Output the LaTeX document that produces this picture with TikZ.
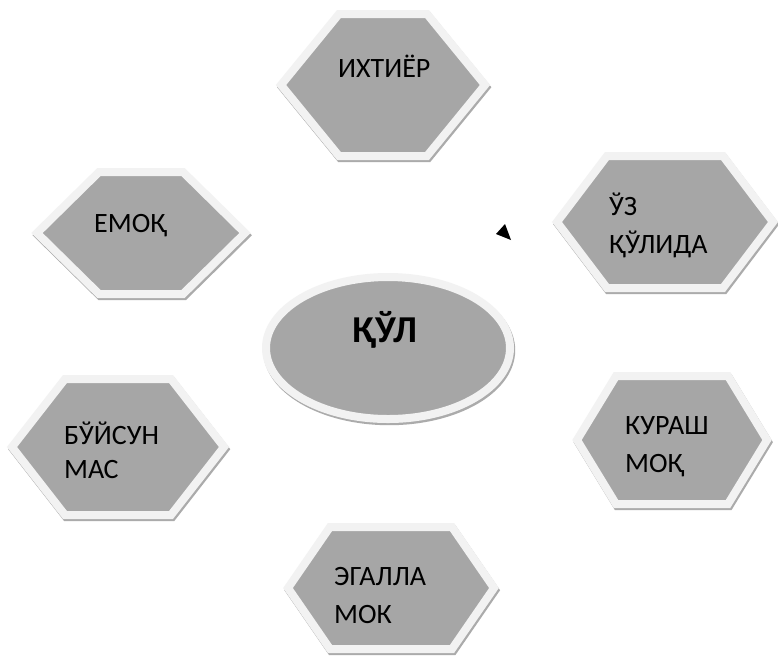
\documentclass[tikz,border=0pt]{standalone}
\usepackage{fontspec}
\setmainfont{Carlito}
\usetikzlibrary{calc}
\definecolor{hexfill}{HTML}{A6A6A6}
\definecolor{hexborder}{HTML}{F2F2F2}
\definecolor{hexshadow}{HTML}{ABABAB}
\tikzset{
  hexmain/.style={fill=hexfill, draw=hexborder, line width=8pt, line join=miter},
  hexshade/.style={fill=hexshadow, draw=hexshadow, line width=8pt, line join=miter},
  hextext/.style={anchor=base west, align=left, inner sep=0pt, font=\fontsize{28}{38}\selectfont},
}
% cx cy hw hh th (outer sizes)
\newcommand\myhexagon[5]{%
  \pgfmathsetmacro\hw{#3-5}\pgfmathsetmacro\hh{#4-4}\pgfmathsetmacro\th{#5-2}%
  \begin{scope}[shift={(#1+1.2,#2+2.2)}]
    \draw[hexshade] (-\hw,0) -- (-\th,-\hh) -- (\th,-\hh) -- (\hw,0) -- (\th,\hh) -- (-\th,\hh) -- cycle;
  \end{scope}
  \begin{scope}[shift={(#1,#2)}]
    \draw[hexmain] (-\hw,0) -- (-\th,-\hh) -- (\th,-\hh) -- (\hw,0) -- (\th,\hh) -- (-\th,\hh) -- cycle;
  \end{scope}}
\begin{document}
\begin{tikzpicture}[x=1pt,y=-1pt]
\useasboundingbox (0,0) rectangle (778,665);
\fill[white] (0,0) rectangle (778,665);
% hexagons
\myhexagon{383}{85}{107}{75}{46}
\myhexagon{141}{233}{109}{65}{44}
\myhexagon{665}{222}{113}{70}{60}
\myhexagon{672}{440}{100}{68}{58}
\myhexagon{391}{588}{108}{65}{63}
\myhexagon{118}{447}{111}{72}{55}
% central ellipse
\draw[hexshade] (389.2,350.2) ellipse [x radius=122, y radius=71];
\draw[hexmain] (388,348) ellipse [x radius=122, y radius=71];
% texts (base = baseline of last line)
\node[hextext] (t1) at (338,77) {ИХТИЁР};
\node[hextext] (t2) at (94,232) {ЕМОҚ};
\node[hextext] (t3) at (609,253) {ЎЗ\\ҚЎЛИДА};
\node[hextext] (t4) at (625,472) {КУРАШ\\МОҚ};
\node[hextext] (t5) at (334,623) {ЭГАЛЛА\\МОК};
\node[hextext, font=\fontsize{28}{34}\selectfont] (t6) at (64,478) {БЎЙСУН\\МАС};
\node[anchor=base, inner sep=0pt, font=\fontsize{38}{44}\selectfont\bfseries] (c) at (385,342) {ҚЎЛ};
% small triangle
\fill[black] (505,224) -- (496,234) -- (511,240) -- cycle;
\end{tikzpicture}
\end{document}
